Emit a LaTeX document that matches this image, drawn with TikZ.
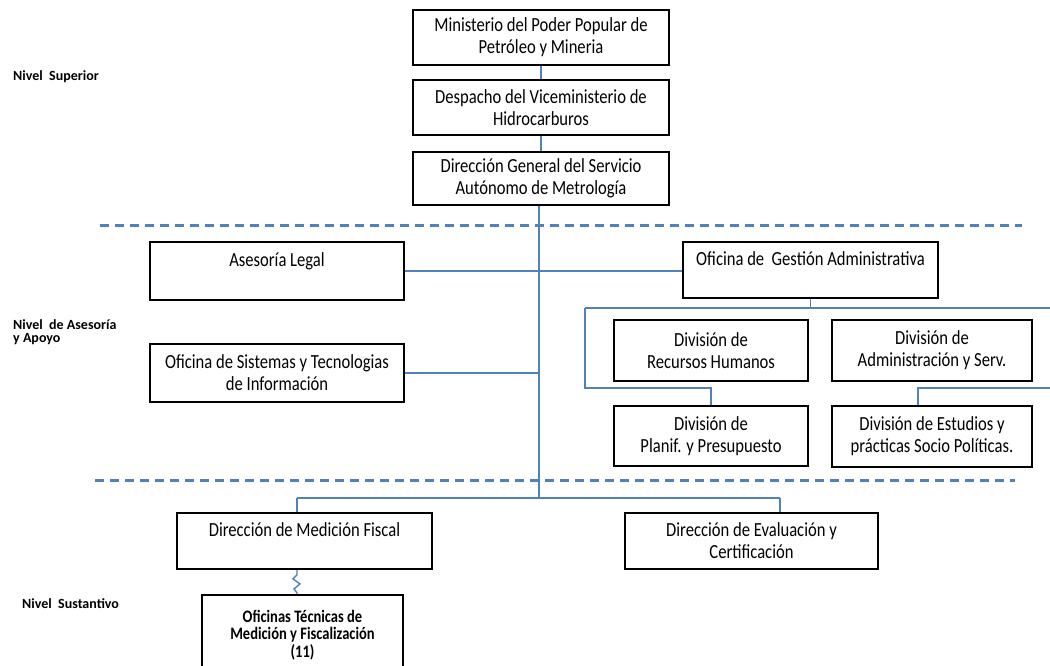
\documentclass[tikz,border=0pt]{standalone}
\usepackage{fontspec}
\setmainfont{Carlito}
\newfontfamily\boxfamily{Carlito}[FakeStretch=0.83]
\newcommand{\boxfont}{\boxfamily\fontsize{20}{22}\selectfont}
\newcommand{\lvlfont}{\fontsize{14}{13.5}\selectfont\bfseries}
\definecolor{connblue}{HTML}{4F81BD}
\tikzset{
  orgbox/.style={draw=black, line width=1.8pt, inner sep=0pt, align=center, font=\boxfont},
  conn/.style={draw=connblue, line width=1.8pt},
  sepline/.style={draw=connblue, line width=3pt, dash pattern=on 9pt off 6pt},
  lvl/.style={anchor=west, align=left, font=\lvlfont, inner sep=0pt}
}
\begin{document}
\begin{tikzpicture}[x=1pt,y=-1pt]
\useasboundingbox (0,0) rectangle (1050,665);
\clip (0,0) rectangle (1050,665);
\fill[white] (0,0) rectangle (1050,665);

% separators
\draw[sepline] (100,225) -- (1022,225);
\draw[sepline] (95,480) -- (1015,480);

% level labels
\node[lvl] (l1) at (13,77) {Nivel\ \ Superior};
\node[lvl] (l2) at (13,332) {Nivel\ \ de Asesoría\\y Apoyo};
\node[lvl] (l3) at (22,604) {Nivel\ \ Sustantivo};

% top boxes
\node[orgbox, minimum width=256pt, minimum height=55pt] (min) at (541,37.5) {Ministerio del Poder Popular de\\Petróleo y Mineria};
\node[orgbox, minimum width=256pt, minimum height=55pt] (desp) at (541,107.5) {Despacho del Viceministerio de\\Hidrocarburos};
\node[orgbox, minimum width=256pt, minimum height=53pt] (dg) at (541,178.5) {Dirección General del Servicio\\Autónomo de Metrología};

% advisory level
\node[orgbox, minimum width=254pt, minimum height=58pt] (legal) at (277,271) {Asesoría Legal\\~};
\node[orgbox, minimum width=254pt, minimum height=58pt] (sist) at (277,373) {Oficina de Sistemas y Tecnologias\\de Información};
\node[orgbox, minimum width=255pt, minimum height=56pt] (gest) at (810.5,270) {Oficina de\ \ Gestión Administrativa\\~};
\node[orgbox, minimum width=194pt, minimum height=61pt] (rh) at (711,350.5) {División de\\Recursos Humanos};
\node[orgbox, minimum width=200pt, minimum height=61pt] (adm) at (932,350.5) {División de\\Administración y Serv.};
\node[orgbox, minimum width=194pt, minimum height=60pt] (plan) at (711,436) {División de\\Planif. y Presupuesto};
\node[orgbox, minimum width=200pt, minimum height=61pt] (est) at (932,436.5) {División de Estudios y\\prácticas Socio Políticas.};

% substantive level
\node[orgbox, minimum width=255pt, minimum height=56pt] (fisc) at (304.5,541) {Dirección de Medición Fiscal\\~};
\node[orgbox, minimum width=253pt, minimum height=56pt] (eval) at (751.5,541) {Dirección de Evaluación y\\Certificación};
\node[orgbox, minimum width=201pt, minimum height=80pt, font=\boxfamily\bfseries\fontsize{17.5}{17.5}\selectfont] (ofi) at (302.5,635) {Oficinas Técnicas de\\Medición y Fiscalización\\(11)};

% coordinates
\coordinate (tb) at (539,498);
\coordinate (gl) at (585,308);
\coordinate (gr) at (1050,308);
\coordinate (pl) at (585,388);
\coordinate (pr) at (1050,388);
\coordinate (fx) at (297,498);
\coordinate (ex) at (780,498);

% connectors
\draw[conn] (min.south) -- (desp.north);
\draw[conn] (desp.south) -- (dg.north);
\draw[conn] ([xshift=-2pt]dg.south) -- (tb);
\draw[conn] (legal.east) -- (legal.east -| gest.west);
\draw[conn] (sist.east) -- (sist.east -| tb);
\draw[conn] (gest.south) -- (gest.south |- gl);
\draw[conn] (gl) -- (gr);
\draw[conn] (gl) -- (pl) -- (pl -| plan.north) -- (plan.north);
\draw[conn] (pr) -- ([xshift=-14pt]est.north |- pr) -- ([xshift=-14pt]est.north);
\draw[conn] (fx) -- (ex);
\draw[conn] (fx) -- (fx |- fisc.north);
\draw[conn] (ex) -- (ex |- eval.north);
\draw[conn, line width=1.4pt] (fx |- fisc.south) -- ++(0,5) -- ++(-4,4) -- ++(7,5) -- ++(-6,5) -- ++(3,4) -- (fx |- ofi.north);
\end{tikzpicture}
\end{document}
